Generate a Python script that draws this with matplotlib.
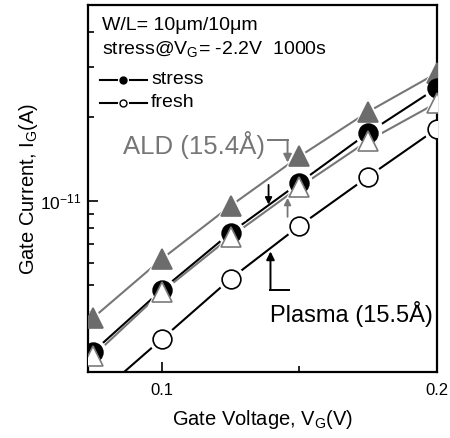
import matplotlib
matplotlib.use("Agg")
import matplotlib.pyplot as plt
from matplotlib.ticker import MultipleLocator, FixedLocator, LogLocator, NullFormatter
from matplotlib.lines import Line2D

plt.rcParams['font.family'] = ['Liberation Sans', 'DejaVu Sans']
plt.rcParams['mathtext.fontset'] = 'custom'
plt.rcParams['mathtext.rm'] = 'Liberation Sans'
plt.rcParams['mathtext.it'] = 'Liberation Sans:italic'
plt.rcParams['mathtext.bf'] = 'Liberation Sans:bold'

# Gate voltage sweep (V)
vg = [0.075, 0.1, 0.125, 0.15, 0.175, 0.2]

# Gate current (A)
ald_stress = [3.82e-12, 6.2e-12, 9.6e-12, 1.44e-11, 2.08e-11, 2.86e-11]
ald_fresh = [2.79e-12, 4.73e-12, 7.44e-12, 1.12e-11, 1.64e-11, 2.24e-11]
plasma_stress = [2.89e-12, 4.81e-12, 7.69e-12, 1.16e-11, 1.75e-11, 2.53e-11]
plasma_fresh = [1.96e-12, 3.21e-12, 5.27e-12, 8.14e-12, 1.22e-11, 1.81e-11]

GRAY = '#767676'
GRAY_FILL = '#6c6c6c'

fig = plt.figure(figsize=(4.5, 4.38), dpi=100)
ax = fig.add_axes([88 / 450, 66 / 438, 349 / 450, 367 / 438])
ax.set_yscale('log')
ax.set_xlim(0.0732, 0.2)
ax.set_ylim(2.45e-12, 5.0e-11)

series = [
    # (values, line colour, marker, size, face, edge, marker zorder)
    (ald_stress, GRAY, '^', 15, GRAY_FILL, GRAY_FILL, 4),
    (plasma_stress, 'black', 'o', 13.5, 'black', 'black', 5),
    (ald_fresh, GRAY, '^', 15, 'white', '#7a7a7a', 6),
    (plasma_fresh, 'black', 'o', 13.5, 'white', 'black', 7),
]

for vals, lc, mk, ms, mfc, mec, z in series:
    # connecting line
    ax.plot(vg, vals, color=lc, lw=1.5, zorder=1, solid_capstyle='butt')
    # white halo leaves a small gap between line and symbol
    ax.plot(vg, vals, ls='none', marker=mk, ms=ms + 5, mfc='white',
            mec='white', zorder=2)
for vals, lc, mk, ms, mfc, mec, z in series:
    ax.plot(vg, vals, ls='none', marker=mk, ms=ms, mfc=mfc, mec=mec,
            mew=1.2, zorder=z)

# axes styling
for side in ['left', 'bottom', 'right', 'top']:
    ax.spines[side].set_linewidth(1.6)
ax.xaxis.set_major_locator(MultipleLocator(0.1))
ax.xaxis.set_minor_locator(MultipleLocator(0.05))
ax.yaxis.set_major_locator(FixedLocator([1e-11]))
ax.yaxis.set_minor_locator(LogLocator(base=10, subs=range(2, 10)))
ax.yaxis.set_minor_formatter(NullFormatter())
ax.yaxis.set_major_formatter(plt.FuncFormatter(lambda v, p: '$10^{-11}$'))
ax.xaxis.set_major_formatter(plt.FuncFormatter(lambda v, p: f'{v:.1f}'))
ax.tick_params(which='both', direction='in', top=False, right=False,
               labelsize=12, width=1.2)
ax.tick_params(axis='y', labelsize=12.5)
ax.tick_params(which='major', length=7)
ax.tick_params(which='minor', length=4.5)
ax.tick_params(axis='x', pad=8)
ax.tick_params(axis='y', pad=5)

ax.set_xlabel('Gate Voltage, V$_{\\mathrm{G}}$(V)', fontsize=14.5, labelpad=7)
ax.set_ylabel('Gate Current, I$_{\\mathrm{G}}$(A)', fontsize=14.5)
ax.yaxis.set_label_coords(-0.1375, 0.5)

# header text
ax.text(0.040, 0.943, 'W/L= 10μm/10μm', transform=ax.transAxes,
        fontsize=14, va='center', ha='left')
ax.text(0.040, 0.880, 'stress@V$_{\\mathrm{G}}$= -2.2V  1000s',
        transform=ax.transAxes, fontsize=14, va='center', ha='left')

# legend glyphs
for yy, face, label in [(0.796, 'black', 'stress'), (0.733, 'white', 'fresh')]:
    ax.add_line(Line2D([0.034, 0.169], [yy, yy], transform=ax.transAxes,
                       color='black', lw=1.5, zorder=8))
    ax.add_line(Line2D([0.1], [yy], transform=ax.transAxes, ls='none',
                       marker='o', ms=7, mfc='white', mec='white', zorder=9))
    ax.add_line(Line2D([0.1], [yy], transform=ax.transAxes, ls='none',
                       marker='o', ms=5, mfc=face, mec='black', mew=1,
                       zorder=10))
    ax.text(0.181, yy, label, transform=ax.transAxes, fontsize=14,
            va='center', ha='left')

# ALD annotation with bent arrow
ax.text(0.0859, 1.585e-11, 'ALD (15.4Å)', fontsize=18.5, color=GRAY,
        va='center', ha='left')
ax.plot([0.1385, 0.1457], [1.652e-11, 1.652e-11], color=GRAY, lw=1.4)
ax.annotate('', xy=(0.1457, 1.37e-11), xytext=(0.1457, 1.652e-11),
            arrowprops=dict(arrowstyle='-|>', color=GRAY, lw=1.4,
                            mutation_scale=12, shrinkA=0, shrinkB=0))

# Plasma annotation with bent arrow
ax.text(0.1395, 3.95e-12, 'Plasma (15.5Å)', fontsize=17, color='black',
        va='center', ha='left')
ax.plot([0.1464, 0.1395], [4.81e-12, 4.81e-12], color='black', lw=1.4)
ax.annotate('', xy=(0.1395, 6.6e-12), xytext=(0.1395, 4.81e-12),
            arrowprops=dict(arrowstyle='-|>', color='black', lw=1.4,
                            mutation_scale=12, shrinkA=0, shrinkB=0))

# small shift arrows
ax.annotate('', xy=(0.1388, 9.7e-12), xytext=(0.1388, 1.14e-11),
            arrowprops=dict(arrowstyle='-|>', color='black', lw=1.3,
                            mutation_scale=10, shrinkA=0, shrinkB=0))
ax.annotate('', xy=(0.1457, 1.025e-11), xytext=(0.1457, 8.77e-12),
            arrowprops=dict(arrowstyle='-|>', color=GRAY, lw=1.3,
                            mutation_scale=10, shrinkA=0, shrinkB=0))

fig.savefig('out.png', dpi=100)
